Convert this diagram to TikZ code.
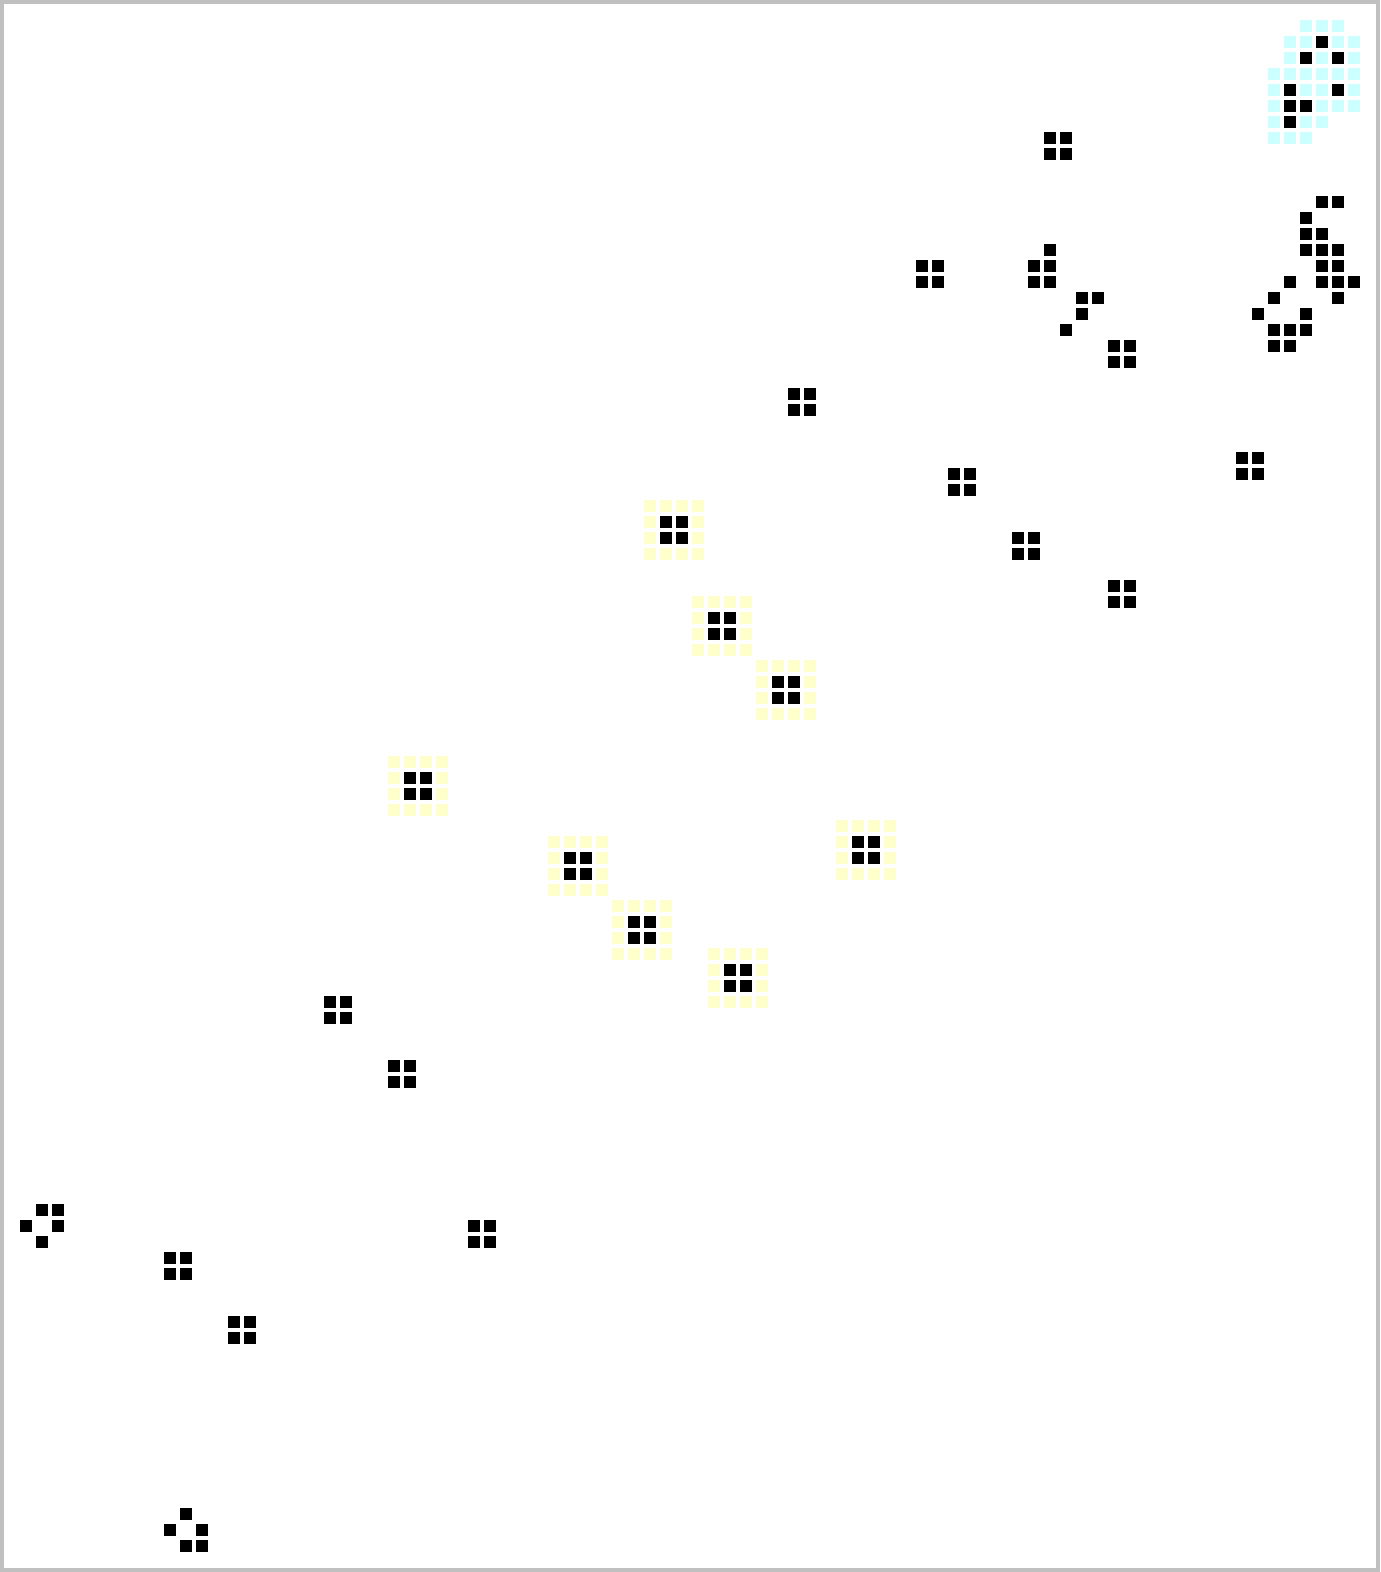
\documentclass[tikz,border=0pt]{standalone}
\usepackage{tikz}
\definecolor{framegray}{HTML}{C0C0C0}
\definecolor{halocyan}{HTML}{CCFFFF}
\definecolor{haloyellow}{HTML}{FFFFCC}
\tikzset{
  live/.style={fill=black},
  cyanhalo/.style={fill=halocyan},
  yellowhalo/.style={fill=haloyellow},
}
\newcommand{\mycell}[3]{\fill[#1] ({4+16*(#2)},{4+16*(#3)}) rectangle ++(12,12);}
\begin{document}
\begin{tikzpicture}[x=0.5pt,y=-0.5pt]
\useasboundingbox (0,0) rectangle (1380,1572);
\fill[framegray] (0,0) rectangle (1380,1572);
\fill[white] (4,4) rectangle (1376,1568);
% cyan halo region (top right)
\foreach \c/\r in {81/1,82/1,83/1,
  80/2,81/2,83/2,84/2,
  80/3,82/3,84/3,
  79/4,80/4,81/4,82/4,83/4,84/4,
  79/5,81/5,82/5,84/5,
  79/6,82/6,83/6,84/6,
  79/7,81/7,82/7,
  79/8,80/8,81/8}
  {\mycell{cyanhalo}{\c}{\r}}
% single live cells
\foreach \c/\r in {82/2,81/3,83/3,80/5,83/5,80/6,81/6,80/7,
  82/12,83/12,81/13,81/14,82/14,81/15,82/15,83/15,82/16,83/16,
  80/17,82/17,83/17,84/17,79/18,83/18,78/19,81/19,79/20,80/20,81/20,79/21,80/21,
  65/15,64/16,65/16,64/17,65/17,67/18,68/18,67/19,66/20,
  2/75,3/75,1/76,3/76,2/77,
  11/94,10/95,12/95,11/96,12/96}
  {\mycell{live}{\c}{\r}}
% plain 2x2 blocks
\foreach \c/\r in {65/8,57/16,69/21,49/24,77/28,59/29,63/33,69/36,20/62,24/66,29/76,10/78,14/82}
  {\foreach \i in {0,1} {\foreach \j in {0,1} {\mycell{live}{\c+\i}{\r+\j}}}}
% blocks with yellow halo
\foreach \c/\r in {40/31,43/37,47/41,24/47,34/52,38/56,52/51,44/59}
  {\foreach \i in {0,...,3} {\foreach \j in {0,...,3} {\mycell{yellowhalo}{\c+\i}{\r+\j}}}
   \foreach \i in {1,2} {\foreach \j in {1,2} {\mycell{live}{\c+\i}{\r+\j}}}}
\end{tikzpicture}
\end{document}
